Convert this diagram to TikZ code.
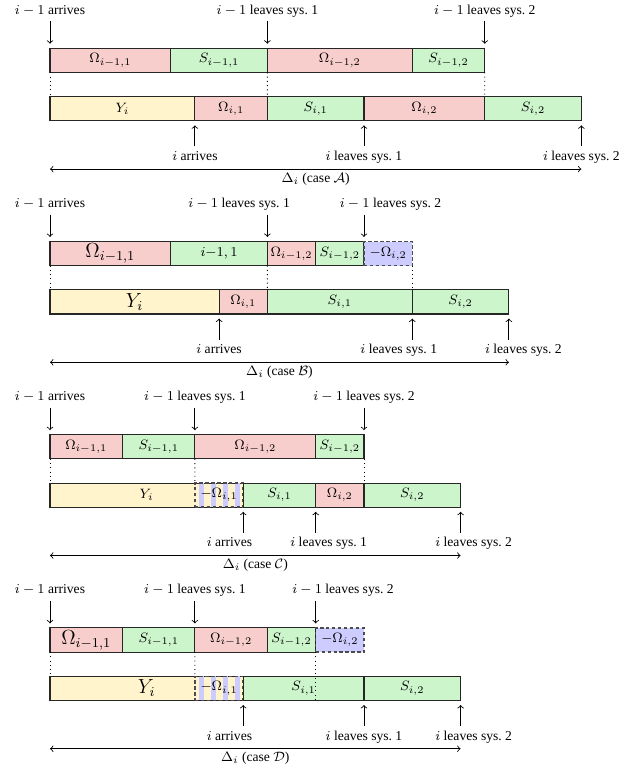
\documentclass[tikz,border=0pt]{standalone}
\usepackage{amsmath}
\usepackage{amssymb}
\usepackage{fontspec}
\setmainfont{Liberation Serif}
\usepackage{tikz}
\usepackage{xcolor}
\usetikzlibrary{positioning}
\definecolor{segred}{HTML}{F8CECC}
\definecolor{seggreen}{HTML}{CCF5CC}
\definecolor{segyellow}{HTML}{FFF4CC}
\definecolor{segblue}{HTML}{CCCCFF}
\tikzset{
    seg-box/.style = {draw=black!85, line width=0.6pt, rectangle, anchor=north west, minimum height=0.5cm, inner sep=0pt, outer sep=0pt, font=\footnotesize},
    red-seg/.style = {seg-box, fill=segred},
    green-seg/.style = {seg-box, fill=seggreen},
    yellow-seg/.style = {seg-box, fill=segyellow},
    neg-seg/.style = {seg-box, fill=segblue, draw=black!70, line width=0.9pt, dash pattern=on 2pt off 1.5pt},
    striped-seg/.style = {seg-box, draw=black!70, line width=0.9pt, dash pattern=on 2pt off 1.5pt},
    event-label/.style = {font=\footnotesize, inner sep=0pt, outer sep=2.7pt, text height=5.5pt, text depth=1.5pt},
    event-arrow/.style = {->, shorten >=2.7pt, line width=0.5pt},
    span-arrow/.style = {<->, line width=0.5pt},
    guide-line/.style = {dotted, line width=0.5pt},
}

\begin{document}
\begin{tikzpicture}[x=0.5cm, y=0.5cm]
\useasboundingbox (-2.07,0) rectangle (24.47,-31.88);

% case A
\node[event-label] (A-in1) at (0,-0.45) {$i-1$ arrives};
\node[event-label] (A-out1) at (9,-0.45) {$i-1$ leaves sys.~1};
\node[event-label] (A-out2) at (18,-0.45) {$i-1$ leaves sys.~2};
\node[red-seg, minimum width=2.5cm] (A-w11) at (0,-2) {$\Omega_{i-1,1}$};
\node[green-seg, minimum width=2cm] (A-s11) at (5,-2) {$S_{i-1,1}$};
\node[red-seg, minimum width=3cm] (A-w12) at (9,-2) {$\Omega_{i-1,2}$};
\node[green-seg, minimum width=1.5cm] (A-s12) at (15,-2) {$S_{i-1,2}$};
\node[yellow-seg, minimum width=3cm] (A-y) at (0,-4) {$Y_i$};
\node[red-seg, minimum width=1.5cm] (A-w21) at (6,-4) {$\Omega_{i,1}$};
\node[green-seg, minimum width=2cm] (A-s21) at (9,-4) {$S_{i,1}$};
\node[red-seg, minimum width=2.5cm] (A-w22) at (13,-4) {$\Omega_{i,2}$};
\node[green-seg, minimum width=2cm] (A-s22) at (18,-4) {$S_{i,2}$};
\node[event-label] (A-arr) at (6,-6.5) {$i$ arrives};
\node[event-label] (A-lv1) at (13,-6.5) {$i$ leaves sys.~1};
\node[event-label] (A-lv2) at (22,-6.5) {$i$ leaves sys.~2};
\coordinate (A-d0) at (0,-7);
\coordinate (A-d1) at (22,-7);
\node[event-label] (A-span) at (11,-7.4) {$\Delta_i$ (case $\mathcal{A}$)};
\draw[event-arrow] (A-in1.south -| A-w11.north west) -- (A-w11.north west);
\draw[event-arrow] (A-out1.south -| A-s11.north east) -- (A-s11.north east);
\draw[event-arrow] (A-out2.south -| A-s12.north east) -- (A-s12.north east);
\draw[event-arrow] (A-arr.north -| A-y.south east) -- (A-y.south east);
\draw[event-arrow] (A-lv1.north -| A-s21.south east) -- (A-s21.south east);
\draw[event-arrow] (A-lv2.north -| A-s22.south east) -- (A-s22.south east);
\draw[guide-line] (A-w11.south west) -- (A-y.north west);
\draw[guide-line] (A-s11.south east) -- (A-s21.north west);
\draw[guide-line] (A-s12.south east) -- (A-s22.north west);
\draw[span-arrow] (A-d0) -- (A-d1);

% case B
\node[event-label] (B-in1) at (0,-8.45) {$i-1$ arrives};
\node[event-label] (B-out1) at (7.83,-8.45) {$i-1$ leaves sys.~1};
\node[event-label] (B-out2) at (14.1,-8.45) {$i-1$ leaves sys.~2};
\node[red-seg, minimum width=2.5cm, font=\large] (B-w11) at (0,-10) {$\Omega_{i-1,1}$};
\node[green-seg, minimum width=2cm] (B-s11) at (5,-10) {$i{-}1,1$};
\node[red-seg, minimum width=1cm] (B-w12) at (9,-10) {$\Omega_{i-1,2}$};
\node[green-seg, minimum width=1cm] (B-s12) at (11,-10) {$S_{i-1,2}$};
\node[neg-seg, minimum width=1cm] (B-neg) at (13,-10) {$-\Omega_{i,2}$};
\node[yellow-seg, minimum width=3.5cm, font=\large] (B-y) at (0,-12) {$Y_i$};
\node[red-seg, minimum width=1cm] (B-w21) at (7,-12) {$\Omega_{i,1}$};
\node[green-seg, minimum width=3cm] (B-s21) at (9,-12) {$S_{i,1}$};
\node[green-seg, minimum width=2cm] (B-s22) at (15,-12) {$S_{i,2}$};
\node[event-label] (B-arr) at (7,-14.5) {$i$ arrives};
\node[event-label] (B-lv1) at (14.44,-14.5) {$i$ leaves sys.~1};
\node[event-label] (B-lv2) at (19.6,-14.5) {$i$ leaves sys.~2};
\coordinate (B-d0) at (0,-15);
\coordinate (B-d1) at (19,-15);
\node[event-label] (B-span) at (9.5,-15.4) {$\Delta_i$ (case $\mathcal{B}$)};
\draw[event-arrow] (B-in1.south -| B-w11.north west) -- (B-w11.north west);
\draw[event-arrow] (B-out1.south -| B-s11.north east) -- (B-s11.north east);
\draw[event-arrow] (B-out2.south -| B-s12.north east) -- (B-s12.north east);
\draw[event-arrow] (B-arr.north -| B-y.south east) -- (B-y.south east);
\draw[event-arrow] (B-lv1.north -| B-s21.south east) -- (B-s21.south east);
\draw[event-arrow] (B-lv2.north -| B-s22.south east) -- (B-s22.south east);
\draw[guide-line] (B-w11.south west) -- (B-y.north west);
\draw[guide-line] (B-s11.south east) -- (B-s21.north west);
\draw[guide-line] (B-neg.south east) -- (B-s22.north west);
\draw[span-arrow] (B-d0) -- (B-d1);

% case C
\node[event-label] (C-in1) at (0,-16.45) {$i-1$ arrives};
\node[event-label] (C-out1) at (6,-16.45) {$i-1$ leaves sys.~1};
\node[event-label] (C-out2) at (13,-16.45) {$i-1$ leaves sys.~2};
\node[red-seg, minimum width=1.5cm] (C-w11) at (0,-18) {$\Omega_{i-1,1}$};
\node[green-seg, minimum width=1.5cm] (C-s11) at (3,-18) {$S_{i-1,1}$};
\node[red-seg, minimum width=2.5cm] (C-w12) at (6,-18) {$\Omega_{i-1,2}$};
\node[green-seg, minimum width=1cm] (C-s12) at (11,-18) {$S_{i-1,2}$};
\node[yellow-seg, minimum width=4cm] (C-y) at (0,-20) {$Y_i$};
\foreach \sx in {6.15,6.65,7.15,7.65}
    \fill[segblue] (\sx,-20) rectangle +(0.22,-1);
\node[striped-seg, minimum width=1cm] (C-neg) at (6,-20) {$-\Omega_{i,1}$};
\node[green-seg, minimum width=1.5cm] (C-s21) at (8,-20) {$S_{i,1}$};
\node[red-seg, minimum width=1cm] (C-w22) at (11,-20) {$\Omega_{i,2}$};
\node[green-seg, minimum width=2cm] (C-s22) at (13,-20) {$S_{i,2}$};
\node[event-label] (C-arr) at (7.43,-22.5) {$i$ arrives};
\node[event-label] (C-lv1) at (11.54,-22.5) {$i$ leaves sys.~1};
\node[event-label] (C-lv2) at (17.54,-22.5) {$i$ leaves sys.~2};
\coordinate (C-d0) at (0,-23);
\coordinate (C-d1) at (17,-23);
\node[event-label] (C-span) at (8.5,-23.4) {$\Delta_i$ (case $\mathcal{C}$)};
\draw[event-arrow] (C-in1.south -| C-w11.north west) -- (C-w11.north west);
\draw[event-arrow] (C-out1.south -| C-s11.north east) -- (C-s11.north east);
\draw[event-arrow] (C-out2.south -| C-s12.north east) -- (C-s12.north east);
\draw[event-arrow] (C-arr.north -| C-neg.south east) -- (C-neg.south east);
\draw[event-arrow] (C-lv1.north -| C-s21.south east) -- (C-s21.south east);
\draw[event-arrow] (C-lv2.north -| C-s22.south east) -- (C-s22.south east);
\draw[guide-line] (C-w11.south west) -- (C-y.north west);
\draw[guide-line] (C-s11.south east) -- (C-neg.north west);
\draw[guide-line] (C-s12.south east) -- (C-s22.north west);
\draw[span-arrow] (C-d0) -- (C-d1);

% case D
\node[event-label] (D-in1) at (0,-24.45) {$i-1$ arrives};
\node[event-label] (D-out1) at (6,-24.45) {$i-1$ leaves sys.~1};
\node[event-label] (D-out2) at (12.13,-24.45) {$i-1$ leaves sys.~2};
\node[red-seg, minimum width=1.5cm, font=\large] (D-w11) at (0,-26) {$\Omega_{i-1,1}$};
\node[green-seg, minimum width=1.5cm] (D-s11) at (3,-26) {$S_{i-1,1}$};
\node[red-seg, minimum width=1.5cm] (D-w12) at (6,-26) {$\Omega_{i-1,2}$};
\node[green-seg, minimum width=1cm] (D-s12) at (9,-26) {$S_{i-1,2}$};
\node[neg-seg, minimum width=1cm] (D-neg2) at (11,-26) {$-\Omega_{i,2}$};
\node[yellow-seg, minimum width=4cm, font=\large] (D-y) at (0,-28) {$Y_i$};
\foreach \sx in {6.15,6.65,7.15,7.65}
    \fill[segblue] (\sx,-28) rectangle +(0.22,-1);
\node[striped-seg, minimum width=1cm] (D-neg1) at (6,-28) {$-\Omega_{i,1}$};
\node[green-seg, minimum width=2.5cm] (D-s21) at (8,-28) {$S_{i,1}$};
\node[green-seg, minimum width=2cm] (D-s22) at (13,-28) {$S_{i,2}$};
\coordinate (D-cut) at (11,-29);
\node[event-label] (D-arr) at (7.43,-30.5) {$i$ arrives};
\node[event-label] (D-lv1) at (13,-30.5) {$i$ leaves sys.~1};
\node[event-label] (D-lv2) at (17.54,-30.5) {$i$ leaves sys.~2};
\coordinate (D-d0) at (0,-31);
\coordinate (D-d1) at (17,-31);
\node[event-label] (D-span) at (8.5,-31.4) {$\Delta_i$ (case $\mathcal{D}$)};
\draw[event-arrow] (D-in1.south -| D-w11.north west) -- (D-w11.north west);
\draw[event-arrow] (D-out1.south -| D-s11.north east) -- (D-s11.north east);
\draw[event-arrow] (D-out2.south -| D-s12.north east) -- (D-s12.north east);
\draw[event-arrow] (D-arr.north -| D-neg1.south east) -- (D-neg1.south east);
\draw[event-arrow] (D-lv1.north -| D-s21.south east) -- (D-s21.south east);
\draw[event-arrow] (D-lv2.north -| D-s22.south east) -- (D-s22.south east);
\draw[guide-line] (D-w11.south west) -- (D-y.north west);
\draw[guide-line] (D-s11.south east) -- (D-neg1.north west);
\draw[guide-line] (D-s12.south east) -- (D-cut);
\draw[span-arrow] (D-d0) -- (D-d1);
\end{tikzpicture}
\end{document}
